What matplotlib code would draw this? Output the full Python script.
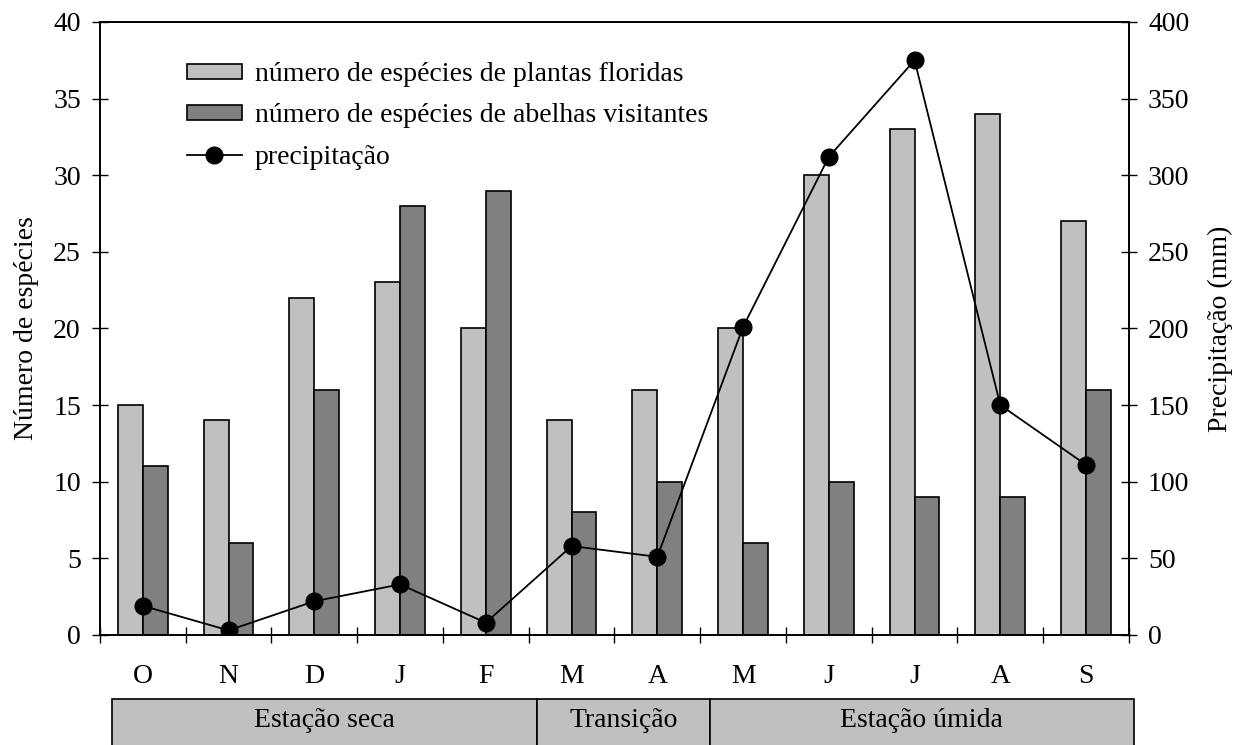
import matplotlib
matplotlib.use("Agg")
import matplotlib.pyplot as plt
import numpy as np
from matplotlib.lines import Line2D
from matplotlib.patches import Patch, Rectangle

plt.rcParams['font.family'] = ['Liberation Serif', 'DejaVu Serif']

# data
meses = ["O", "N", "D", "J", "F", "M", "A", "M", "J", "J", "A", "S"]
plantas = [15, 14, 22, 23, 20, 14, 16, 20, 30, 33, 34, 27]
abelhas = [11, 6, 16, 28, 29, 8, 10, 6, 10, 9, 9, 16]
precipitacao = [19, 3, 22, 33, 8, 58, 51, 201, 312, 375, 150, 111]

estacoes = ["Estação seca", "Transição", "Estação úmida"]
estacao_limites = [(-0.36, 4.6), (4.6, 6.61), (6.61, 11.56)]

x = np.arange(len(meses))
w = 0.29
fs = 20

fig = plt.figure(figsize=(12.48, 7.45), dpi=100)
ax = fig.add_axes([0.0801, 0.1477, 0.8245, 0.8228])
ax.bar(x - w / 2, plantas, w, color="#c0c0c0", edgecolor="black", linewidth=1.2)
ax.bar(x + w / 2, abelhas, w, color="#808080", edgecolor="black", linewidth=1.2)
ax.set_xlim(-0.5, 11.5)
ax.set_ylim(0, 40)
ax.set_yticks(range(0, 41, 5))
ax.set_xticks(np.arange(-0.5, 12, 1))
ax.set_xticklabels([])
ax.tick_params(axis="both", direction="inout", length=11.5, width=1, labelsize=fs, pad=8)
for i, m in enumerate(meses):
    ax.text(i, -0.068, m, transform=ax.get_xaxis_transform(), ha="center", va="center", fontsize=fs)
ax.set_ylabel("Número de espécies", fontsize=fs, labelpad=10)

ax2 = ax.twinx()
ax2.plot(x, precipitacao, color="black", linewidth=1.3, marker="o", markersize=12)
ax2.set_ylim(0, 400)
ax2.set_yticks(range(0, 401, 50))
ax2.tick_params(axis="y", direction="inout", length=11.5, width=1, labelsize=fs, pad=8)
ax2.set_ylabel("Precipitação (mm)", fontsize=fs, labelpad=13)
for a in (ax, ax2):
    for s in a.spines.values():
        s.set_linewidth(1.2)

# season boxes below the month labels
trans = ax.get_xaxis_transform()
for nome, (x0, x1) in zip(estacoes, estacao_limites):
    ax.add_patch(Rectangle((x0, -0.104), x1 - x0, -0.1, transform=trans, facecolor="#c0c0c0",
                           edgecolor="black", linewidth=1.2, clip_on=False))
    ax.text((x0 + x1) / 2, -0.14, nome, transform=trans, ha="center", va="center", fontsize=fs)

handles = [
    Patch(facecolor="#c0c0c0", edgecolor="black", linewidth=1.2),
    Patch(facecolor="#808080", edgecolor="black", linewidth=1.2),
    Line2D([], [], color="black", linewidth=1.3, marker="o", markersize=12),
]
labels = ["número de espécies de plantas floridas",
          "número de espécies de abelhas visitantes",
          "precipitação"]
ax2.legend(handles, labels, loc="upper left", bbox_to_anchor=(0.06, 0.975), frameon=False,
           fontsize=fs, handlelength=2.0, handleheight=0.5, labelspacing=0.58, handletextpad=0.45)

fig.savefig("out.png", dpi=100)
